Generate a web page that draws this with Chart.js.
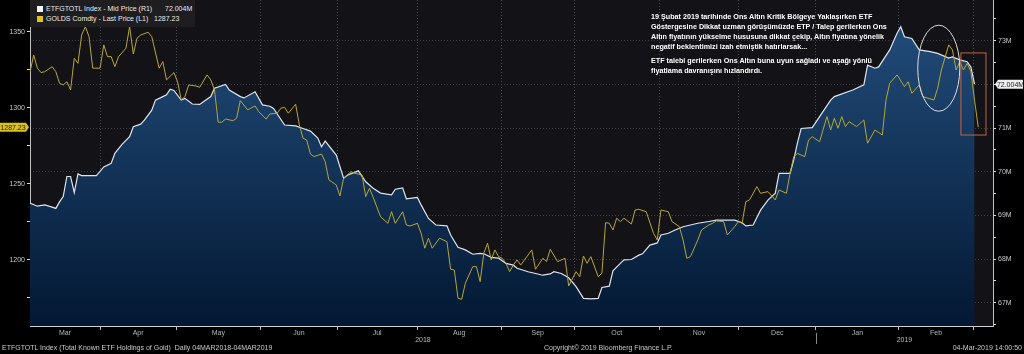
<!DOCTYPE html>
<html>
<head>
<meta charset="utf-8">
<script src="https://cdn.jsdelivr.net/npm/chart.js@4/dist/chart.umd.min.js"></script>
<style>
html,body{margin:0;padding:0;background:#000;width:1024px;height:354px;overflow:hidden;}
#wrap{position:relative;width:1024px;height:354px;font-family:"Liberation Sans",Arial,sans-serif;}
canvas{position:absolute;left:0;top:0;}
.lg{position:absolute;left:30px;top:0;width:165px;height:27px;background:#1e1e21;font-size:7px;color:#e8e8e8;}
.lg div{position:absolute;white-space:pre;}
.sq{position:absolute;width:6px;height:6px;}
.note{position:absolute;left:651px;top:12px;color:#fff;font-weight:bold;font-size:7.2px;line-height:10px;white-space:pre;}
.note p{margin:0 0 4px 0;}
.foot{position:absolute;top:344px;font-size:7px;color:#c8c8c8;white-space:pre;}
</style>
</head>
<body>
<div id="wrap">
<canvas id="c" width="1024" height="354"></canvas>
<div class="lg">
  <div class="sq" style="left:7px;top:6px;background:#f4f4f4"></div>
  <div style="left:16px;top:5px">ETFGTOTL Index - Mid Price (R1)</div>
  <div style="left:135px;top:5px">72.004M</div>
  <div class="sq" style="left:7px;top:16px;background:#e3c21c"></div>
  <div style="left:16px;top:15px">GOLDS Comdty - Last Price (L1)</div>
  <div style="left:124px;top:15px">1287.23</div>
</div>
<div class="note"><p>19 Şubat 2019 tarihinde Ons Altın Kritik Bölgeye Yaklaşırken ETF
Göstergesine Dikkat uzman görüşümüzde ETP / Talep gerilerken Ons
Altın fiyatının yükselme hususuna dikkat çekip, Altın fiyatına yönelik
negatif beklentimizi izah etmiştik hatırlarsak...</p><p>ETF talebi gerilerken Ons Altın buna uyun sağladı ve aşağı yönlü
fiyatlama davranışını hızlandırdı.</p></div>
<div class="foot" style="left:2px">ETFGTOTL Index (Total Known ETF Holdings of Gold)  Daily 04MAR2018-04MAR2019</div>
<div class="foot" style="left:544px">Copyright© 2019 Bloomberg Finance L.P.</div>
<div class="foot" style="right:2px">04-Mar-2019 14:00:50</div>
</div>
<script>
// x = trading day index from 05-Mar-2018
const monthNames = ['Mar','Apr','May','Jun','Jul','Aug','Sep','Oct','Nov','Dec','Jan','Feb'];
const monthStarts = [0, 19, 39.6, 62.5, 83.3, 104.9, 127.7, 147.5, 170.5, 192.1, 213, 235.5, 255.6];
const yearLabels = ['2018', '2019'];
const xMax = 261;

// ETFGTOTL Index, million oz (right axis)
const etfDays = [0,2,4,6,7,8,9,10,11,12,13,14,18,20,22,23,25,27,28,30,31,33,34,36,37,38,39,41,42,44,46,47,49,50,53,54,57,58,61,63,65,66,69,72,74,76,78,79,80,83,85,86,89,91,93,95,98,99,101,102,104,105,106,108,110,113,114,116,118,120,122,123,125,127,129,131,132,135,137,139,141,142,144,146,148,150,152,154,155,157,158,160,161,163,165,166,168,170,171,173,175,177,179,181,184,186,191,193,194,196,198,200,202,203,206,207,208,209,212,217,218,223,226,227,229,230,233,235,236,237,239,241,244,246,249,250,252,254,255,256];
const etfValues = [69.28,69.21,69.24,69.19,69.16,69.31,69.43,69.89,69.89,69.52,69.95,69.91,69.91,70.11,70.19,70.42,70.63,70.80,71.03,71.09,71.18,71.41,71.64,71.72,71.76,71.89,71.86,71.64,71.68,71.55,71.54,71.60,71.72,71.91,72.00,71.87,71.72,71.69,71.83,71.53,71.50,71.45,71.07,71.05,70.99,70.93,70.77,70.57,70.70,70.38,69.85,69.92,70.02,69.77,69.62,69.51,69.47,69.60,69.63,69.38,69.40,69.41,69.24,68.93,68.78,68.76,68.55,68.27,68.21,68.11,68.13,68.12,68.04,68.02,67.90,67.86,67.79,67.71,67.67,67.63,67.66,67.71,67.67,67.57,67.37,67.10,67.09,67.10,67.35,67.38,67.73,67.90,67.98,67.99,68.09,68.12,68.32,68.37,68.55,68.59,68.67,68.74,68.78,68.82,68.86,68.89,68.89,68.83,68.76,68.78,69.12,69.35,69.51,69.96,69.96,70.27,70.66,70.99,71.01,71.64,71.72,71.87,71.99,72.44,72.37,72.40,72.79,73.17,73.32,73.09,73.05,72.79,72.75,72.71,72.60,72.63,72.56,72.52,72.40,72.004];

// GOLDS Comdty, USD/oz (left axis)
const goldDays = [0,1,2,3,4,6,7,8,9,10,11,12,13,14,15,16,17,19,20,21,22,23,24,26,27,28,29,30,32,33,35,36,37,39,40,41,42,43,45,46,48,49,50,51,52,53,55,56,57,59,61,62,64,65,67,68,69,70,72,73,74,75,76,77,79,80,81,83,84,85,87,88,90,91,92,93,95,97,98,99,101,102,103,105,106,107,108,109,111,113,114,115,116,117,118,120,121,122,123,124,125,126,127,128,129,130,131,132,133,136,137,139,140,141,143,145,146,148,149,150,151,152,154,155,156,157,158,159,160,161,163,164,165,167,169,170,171,173,174,176,177,178,179,181,182,184,185,186,188,189,191,192,193,194,195,197,198,200,202,203,205,206,207,208,210,211,212,214,216,217,218,219,220,221,222,224,226,227,229,231,232,233,235,237,238,239,241,242,245,246,247,249,250,251,252,253,254,255,256,257];
const goldValues = [1323.5,1334.7,1326.0,1323.1,1323.7,1327.0,1323.7,1316.1,1315.0,1317.1,1311.7,1332.5,1329.2,1347.8,1353.3,1346.7,1326.0,1326.0,1341.3,1333.6,1333.6,1327.0,1333.6,1339.1,1353.3,1335.3,1345.7,1347.8,1349.6,1346.7,1326.0,1330.3,1318.3,1323.1,1317.1,1305.1,1307.3,1315.0,1314.3,1313.5,1321.6,1318.3,1311.7,1290.5,1290.5,1292.6,1291.5,1293.1,1304.7,1298.6,1301.2,1297.4,1292.6,1295.9,1296.4,1299.7,1300.3,1296.4,1302.3,1288.7,1280.0,1278.8,1269.6,1267.9,1269.6,1264.6,1252.6,1249.3,1242.0,1253.7,1258.0,1257.0,1255.8,1241.6,1247.1,1241.2,1228.4,1224.1,1231.7,1224.1,1231.7,1223.0,1222.3,1224.1,1217.5,1207.7,1214.3,1207.7,1214.3,1212.0,1193.9,1193.4,1174.8,1174.2,1184.7,1195.6,1195.6,1185.7,1204.4,1211.0,1200.0,1206.6,1202.2,1201.1,1197.8,1192.3,1196.7,1200.0,1196.7,1206.6,1193.9,1201.1,1198.9,1207.0,1198.9,1201.1,1182.9,1192.3,1189.0,1202.6,1197.8,1202.2,1189.0,1191.2,1224.5,1224.1,1219.7,1227.4,1225.2,1227.4,1223.6,1232.8,1233.3,1231.7,1217.5,1213.1,1232.8,1231.7,1225.2,1221.9,1213.1,1201.1,1202.2,1213.1,1219.7,1223.0,1224.1,1225.6,1225.2,1216.4,1221.9,1225.2,1224.1,1238.3,1239.4,1248.2,1243.8,1244.9,1239.4,1246.0,1243.8,1257.0,1267.9,1270.0,1267.9,1278.8,1281.0,1277.7,1294.2,1285.4,1293.1,1286.5,1294.2,1287.6,1290.9,1287.6,1292.0,1276.7,1285.4,1282.1,1305.1,1316.1,1321.6,1313.9,1317.1,1309.5,1315.0,1307.3,1305.1,1312.8,1324.8,1341.3,1338.0,1324.8,1330.3,1324.8,1329.2,1323.7,1305.0,1287.23];

const boundaries = monthStarts.slice(1);
const centers = monthNames.map((m, i) => (monthStarts[i] + (monthStarts[i + 1] || xMax)) / 2);
const isBoundary = v => boundaries.some(b => Math.abs(b - v) < 1e-6);
const near = (v, s) => Math.abs(v / s - Math.round(v / s)) < 1e-6;

function fixBox(w, h) {
  return s => {
    if (w != null) s.width = w;
    if (h != null) s.height = h;
    s.paddingTop = s.paddingBottom = s.paddingLeft = s.paddingRight = 0;
  };
}

function tag(ctx, tipX, y, bodyX0, bodyX1, bg, fg, text) {
  ctx.beginPath();
  if (tipX > bodyX1) {
    ctx.moveTo(bodyX0, y - 4.5); ctx.lineTo(bodyX1, y - 4.5); ctx.lineTo(tipX, y);
    ctx.lineTo(bodyX1, y + 4.5); ctx.lineTo(bodyX0, y + 4.5);
  } else {
    ctx.moveTo(tipX, y); ctx.lineTo(bodyX0, y - 4.5); ctx.lineTo(bodyX1, y - 4.5);
    ctx.lineTo(bodyX1, y + 4.5); ctx.lineTo(bodyX0, y + 4.5);
  }
  ctx.closePath();
  ctx.fillStyle = bg; ctx.fill();
  ctx.fillStyle = fg;
  ctx.font = '7px "Liberation Sans", Arial, sans-serif';
  ctx.textAlign = 'center'; ctx.textBaseline = 'middle';
  ctx.fillText(text, (bodyX0 + bodyX1) / 2, y + 0.5);
}

const overlay = {
  id: 'overlay',
  beforeDraw(chart) {
    const {ctx, chartArea: a} = chart;
    ctx.save();
    ctx.fillStyle = '#000';
    ctx.fillRect(0, 0, chart.width, chart.height);
    ctx.fillStyle = '#131317';
    ctx.fillRect(a.left, a.top, a.right - a.left, a.bottom - a.top);
    ctx.restore();
  },
  afterDraw(chart) {
    const {ctx, chartArea: a} = chart;
    const x = chart.scales.x, yl = chart.scales.y, yr = chart.scales.y1;
    ctx.save();
    // circle round the February top
    const cx = x.getPixelForValue(246.3), cy = yr.getPixelForValue(72.37);
    const rx = x.getPixelForValue(246.3 + 5.7) - cx, ry = yr.getPixelForValue(72.37 - 0.985) - cy;
    ctx.strokeStyle = '#dcdcdc'; ctx.lineWidth = 1;
    ctx.beginPath(); ctx.ellipse(cx, cy, rx, ry, 0, 0, Math.PI * 2); ctx.stroke();
    // box round the drop
    const bx0 = x.getPixelForValue(252.3), bx1 = x.getPixelForValue(259.1);
    const by0 = yr.getPixelForValue(72.72), by1 = yr.getPixelForValue(70.84);
    ctx.strokeStyle = '#c4643e';
    ctx.strokeRect(bx0, by0, bx1 - bx0, by1 - by0);
    // last value tags
    tag(ctx, a.left - 1, yl.getPixelForValue(goldValues[goldValues.length - 1]), 0, 26, '#d9c21e', '#1a1a1a', goldValues[goldValues.length - 1].toFixed(2));
    tag(ctx, a.right + 2, yr.getPixelForValue(etfValues[etfValues.length - 1]), 998, 1023, '#eeeeee', '#1a1a1a', etfValues[etfValues.length - 1].toFixed(3) + 'M');
    // years
    ctx.fillStyle = '#bdbdbd';
    ctx.font = '7px "Liberation Sans", Arial, sans-serif';
    ctx.textAlign = 'center'; ctx.textBaseline = 'middle';
    const jan = monthStarts[10];
    ctx.fillText(yearLabels[0], (x.getPixelForValue(0) + x.getPixelForValue(jan)) / 2, 340);
    ctx.fillText(yearLabels[1], (x.getPixelForValue(jan) + a.right) / 2, 340);
    ctx.strokeStyle = '#8a8a8a';
    ctx.beginPath();
    ctx.moveTo(Math.round(x.getPixelForValue(jan)) + 0.5, 333);
    ctx.lineTo(Math.round(x.getPixelForValue(jan)) + 0.5, 344);
    ctx.stroke();
    ctx.restore();
  }
};

const tickFont = {family: '"Liberation Sans", Arial, sans-serif', size: 7};

new Chart(document.getElementById('c'), {
  type: 'line',
  data: {
    datasets: [
      {
        label: 'GOLDS Comdty - Last Price (L1)',
        data: goldDays.map((d, i) => ({x: d, y: goldValues[i]})),
        yAxisID: 'y',
        borderColor: '#b9a532',
        borderWidth: 1,
        pointRadius: 0,
        tension: 0,
        fill: false
      },
      {
        label: 'ETFGTOTL Index - Mid Price (R1)',
        data: etfDays.map((d, i) => ({x: d, y: etfValues[i]})),
        yAxisID: 'y1',
        borderColor: '#dfe4ec',
        borderWidth: 1.2,
        pointRadius: 0,
        tension: 0,
        fill: 'start',
        backgroundColor: c => {
          const a = c.chart.chartArea;
          if (!a) return '#0d2a4c';
          const g = c.chart.ctx.createLinearGradient(0, a.top, 0, a.bottom);
          g.addColorStop(0, '#24507f');
          g.addColorStop(1, '#031833');
          return g;
        }
      }
    ]
  },
  options: {
    responsive: false,
    animation: false,
    devicePixelRatio: 1,
    layout: {padding: 0},
    plugins: {legend: {display: false}, tooltip: {enabled: false}},
    scales: {
      x: {
        type: 'linear',
        min: 0,
        max: xMax,
        afterBuildTicks: s => { s.ticks = [...boundaries, ...centers].sort((p, q) => p - q).map(v => ({value: v})); },
        afterFit: fixBox(null, 28),
        ticks: {
          autoSkip: false, maxRotation: 0, padding: -1, color: '#b4b4b4', font: tickFont,
          callback: v => { const i = centers.findIndex(c => Math.abs(c - v) < 1e-6); return i >= 0 ? monthNames[i] : ''; }
        },
        grid: {
          color: c => isBoundary(c.tick.value) ? '#4a4a52' : 'transparent',
          tickColor: c => isBoundary(c.tick.value) ? '#bbbbbb' : 'transparent',
          tickLength: 4, lineWidth: 1
        },
        border: {display: true, color: '#d0d0d0', width: 1, dash: [1, 2]}
      },
      y: {
        position: 'left',
        min: 1156.6,
        max: 1370.8,
        afterFit: fixBox(30, null),
        ticks: {stepSize: 25, includeBounds: false, padding: 2, color: '#c8c8c8', font: tickFont,
          callback: v => near(v, 50) ? String(v) : ''},
        grid: {drawOnChartArea: false, tickLength: 3, tickColor: '#dddddd'},
        border: {display: true, color: '#c0c0c0', width: 1}
      },
      y1: {
        position: 'right',
        min: 66.467,
        max: 73.932,
        afterFit: fixBox(31, null),
        ticks: {stepSize: 0.5, includeBounds: false, padding: 2, color: '#c8c8c8', font: tickFont,
          callback: v => near(v, 1) ? Math.round(v) + 'M' : ''},
        grid: {
          drawOnChartArea: true,
          color: c => near(c.tick.value, 1) ? '#3e3e46' : 'transparent',
          tickColor: '#dddddd', tickLength: 3
        },
        border: {display: true, color: '#c0c0c0', width: 1, dash: [1, 2]}
      }
    }
  },
  plugins: [overlay]
});
</script>
</body>
</html>
